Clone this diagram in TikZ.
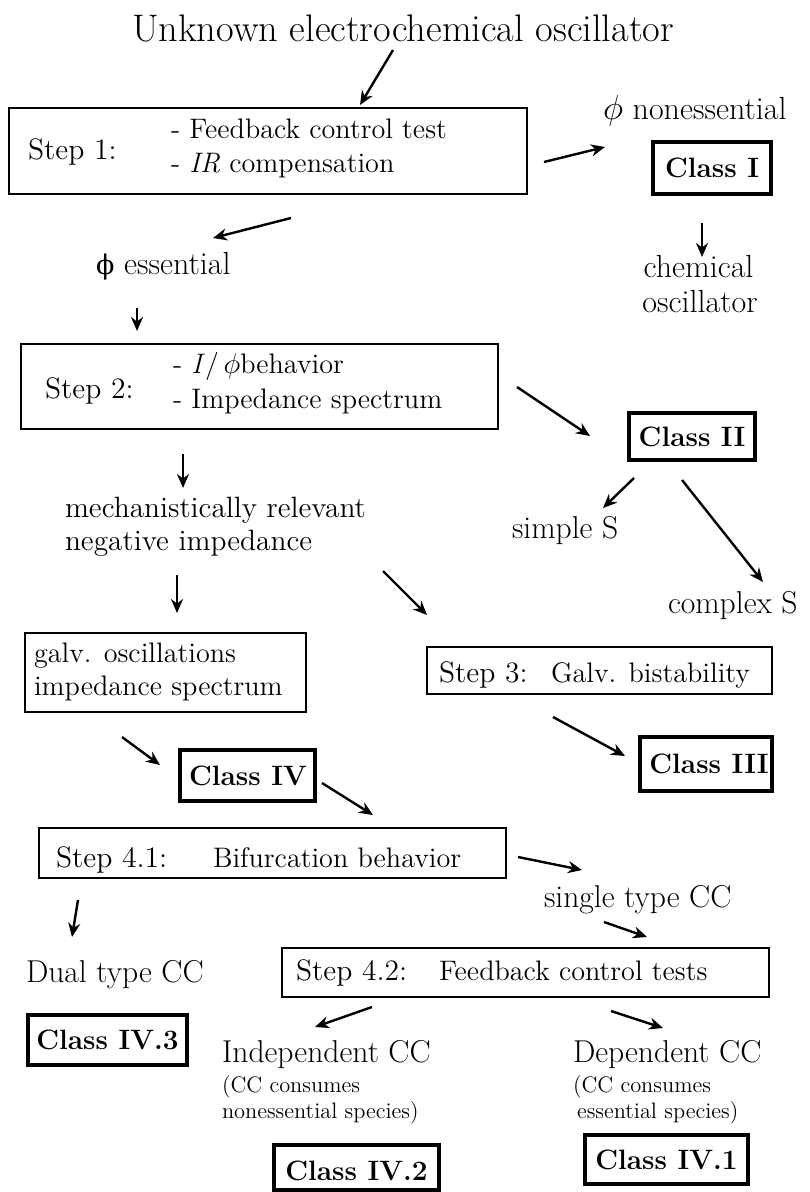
\documentclass[tikz,border=0pt]{standalone}
\usepackage{fontspec}
\newfontfamily\dvs{DejaVu Serif}
\usetikzlibrary{arrows.meta,fit}
\tikzset{
  stepbox/.style={draw, line width=0.75pt, inner sep=0pt},
  classbox/.style={draw, line width=1.6pt, inner sep=0pt},
  arr/.style={-{Stealth[length=7pt,width=6pt]}, line width=1.2pt},
  lbl/.style={anchor=base west, inner sep=0pt, outer sep=0pt},
  ttl/.style={lbl, font=\fontsize{19.2pt}{23pt}\selectfont},
  stp/.style={lbl, font=\fontsize{14.8pt}{18pt}\selectfont},
  cnt/.style={lbl, font=\fontsize{14.1pt}{17pt}\selectfont},
  fre/.style={lbl, font=\fontsize{15.8pt}{19pt}\selectfont},
  mid/.style={lbl, font=\fontsize{14.7pt}{18pt}\selectfont},
  sml/.style={lbl, font=\fontsize{11.2pt}{13pt}\selectfont},
  cls/.style={anchor=base, inner sep=0pt, font=\bfseries\fontsize{14pt}{17pt}\selectfont}
}
\begin{document}
\begin{tikzpicture}[x=0.5pt, y=-0.5pt]
\useasboundingbox[fill=white] (0,0) rectangle (809,1192);

% ---- title and step 1
\node[ttl] (title) at (132,42) {Unknown electrochemical oscillator};
\node[stepbox, fit={(9,108) (527,194)}] (s1) {};
\node[stp] (s1l) at (28,160) {Step 1:};
\node[cnt] (s1a) at (171,139) {- Feedback control test};
\node[cnt] (s1b) at (171,173) {- \textit{IR} compensation};

% ---- class I branch
\node[fre, font=\fontsize{16pt}{19pt}\selectfont] (ness) at (603,120) {$\phi$ nonessential};
\node[classbox, fit={(653,142) (771,194)}] (c1) {};
\node[cls] (c1t) at (712,177.5) {Class I};
\node[fre, anchor=base, font=\fontsize{16pt}{19pt}\selectfont] (chem1) at (698.5,278) {chemical};
\node[fre, anchor=base, font=\fontsize{16pt}{19pt}\selectfont] (chem2) at (700,313) {oscillator};

\node[fre, font=\fontsize{16pt}{19pt}\selectfont] (ess) at (96,275) {{\dvs\fontsize{13.5pt}{16pt}\selectfont ϕ} essential};

% ---- step 2
\node[stepbox, fit={(21,344) (498,429)}] (s2) {};
\node[stp] (s2l) at (45,398) {Step 2:};
\node[cnt] (s2a) at (173,373) {- \textit{I}/\,$\phi$behavior};
\node[cnt] (s2b) at (173,408) {- Impedance spectrum};

\node[classbox, fit={(629,413) (755,460)}] (c2) {};
\node[cls] (c2t) at (692,446) {Class II};
\node[fre] (simp) at (512,538) {simple S};
\node[fre] (comp) at (668,613) {complex S};

\node[mid] (mech1) at (65,517) {mechanistically relevant};
\node[mid] (mech2) at (65,550) {negative impedance};

% ---- galv / step 3
\node[stepbox, fit={(25,633) (306,712)}] (gal) {};
\node[cnt] (gal1) at (34,662) {galv. oscillations};
\node[cnt] (gal2) at (34,695) {impedance spectrum};

\node[stepbox, fit={(427,647) (772,694)}] (s3) {};
\node[stp] (s3l) at (439,682) {Step 3:};
\node[cnt] (s3a) at (551,682) {Galv. bistability};

\node[classbox, fit={(640,737) (772,791)}] (c3) {};
\node[cls] (c3t) at (709,773.5) {Class III};

\node[classbox, fit={(180,750) (315,801)}] (c4) {};
\node[cls] (c4t) at (248,785) {Class IV};

% ---- step 4.1
\node[stepbox, fit={(39,828) (506,878)}] (s41) {};
\node[stp] (s41l) at (56,867) {Step 4.1:};
\node[cnt] (s41a) at (213,867) {Bifurcation behavior};

\node[fre] (single) at (544,907) {single type CC};
\node[fre] (dual) at (26,982) {Dual type CC};

% ---- step 4.2
\node[stepbox, fit={(282,948) (769,997)}] (s42) {};
\node[stp] (s42l) at (296,980) {Step 4.2:};
\node[cnt] (s42a) at (439,980) {Feedback control tests};

\node[classbox, fit={(28,1015) (187,1065)}] (c43) {};
\node[cls] (c43t) at (107.5,1049.5) {Class IV.3};

\node[fre] (ind) at (222,1062) {Independent CC};
\node[sml] (ind1) at (222,1092) {(CC consumes};
\node[sml] (ind2) at (222,1118) {nonessential species)};

\node[fre] (dep) at (573,1062) {Dependent CC};
\node[sml] (dep1) at (573,1092) {(CC consumes};
\node[sml] (dep2) at (577,1118) {essential species)};

\node[classbox, fit={(274,1145) (439,1190)}] (c42) {};
\node[cls] (c42t) at (356.5,1180) {Class IV.2};
\node[classbox, fit={(585,1135) (748,1184)}] (c41) {};
\node[cls] (c41t) at (666.5,1169) {Class IV.1};

% ---- arrow end points
\coordinate (a0s) at (393,50);   \coordinate (a0e) at (360,105);
\coordinate (a1s) at (544,162);  \coordinate (a1e) at (605,147);
\coordinate (a2s) at (702,223);  \coordinate (a2e) at (702,257);
\coordinate (a3s) at (291,218);  \coordinate (a3e) at (213,238);
\coordinate (a4s) at (137,308);  \coordinate (a4e) at (137,331);
\coordinate (a5s) at (517,387);  \coordinate (a5e) at (590,436);
\coordinate (a6s) at (183,454);  \coordinate (a6e) at (183,488);
\coordinate (a7s) at (634,478);  \coordinate (a7e) at (603,508);
\coordinate (a8s) at (682,480);  \coordinate (a8e) at (763,582);
\coordinate (a9s) at (177,575);  \coordinate (a9e) at (177,613);
\coordinate (a10s) at (383,571); \coordinate (a10e) at (427,615);
\coordinate (a11s) at (553,717); \coordinate (a11e) at (625,756);
\coordinate (a12s) at (122,737); \coordinate (a12e) at (160,765);
\coordinate (a13s) at (322,783); \coordinate (a13e) at (373,815);
\coordinate (a14s) at (518,857); \coordinate (a14e) at (582,870);
\coordinate (a15s) at (78,900);  \coordinate (a15e) at (72,937);
\coordinate (a16s) at (604,922); \coordinate (a16e) at (647,937);
\coordinate (a17s) at (372,1007);\coordinate (a17e) at (315,1027);
\coordinate (a18s) at (611,1011);\coordinate (a18e) at (663,1028);

\foreach \i in {0,...,18}{\draw[arr] (a\i s) -- (a\i e);}
\end{tikzpicture}
\end{document}
